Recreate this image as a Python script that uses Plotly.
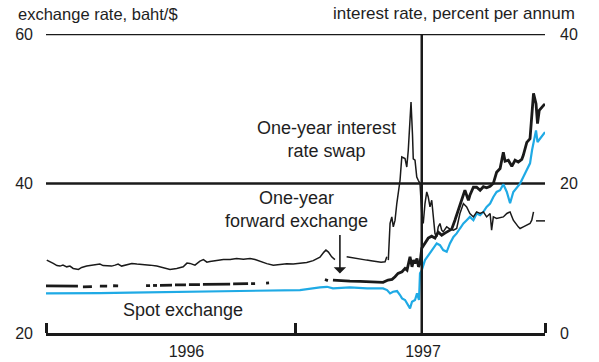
import plotly.graph_objects as go

# ---- Data (time in decimal years) ----
# Spot exchange rate, baht/$ (left axis)
spot_t = [1996.000, 1996.096, 1996.216, 1996.337, 1996.457, 1996.577, 1996.697, 1996.818, 1996.938,
          1997.018, 1997.098, 1997.126, 1997.150, 1997.218, 1997.287, 1997.351, 1997.367, 1997.379,
          1997.391, 1997.407, 1997.419, 1997.427, 1997.439, 1997.451, 1997.459, 1997.467, 1997.479,
          1997.487, 1997.495, 1997.499, 1997.506, 1997.519, 1997.539, 1997.552, 1997.566, 1997.579,
          1997.592, 1997.606, 1997.619, 1997.633, 1997.646, 1997.659, 1997.673, 1997.686, 1997.699,
          1997.713, 1997.726, 1997.740, 1997.753, 1997.766, 1997.780, 1997.793, 1997.806, 1997.820,
          1997.833, 1997.847, 1997.860, 1997.873, 1997.887, 1997.900, 1997.913, 1997.927, 1997.940,
          1997.948, 1997.956, 1997.964, 1997.970, 1997.980, 1997.990, 1998.000]
spot_v = [25.30, 25.28, 25.34, 25.41, 25.47, 25.54, 25.61, 25.66, 25.72,
          25.74, 26.10, 26.18, 25.97, 26.10, 25.97, 25.97, 25.74, 25.30,
          25.52, 25.61, 25.08, 24.63, 24.41, 23.74, 23.30, 24.18, 24.41,
          25.30, 24.41, 27.97, 28.40, 29.75, 30.64, 31.31, 31.98, 31.75,
          31.09, 30.86, 31.98, 32.86, 33.32, 33.98, 34.65, 35.09, 35.53,
          35.09, 35.99, 35.76, 36.20, 36.87, 37.32, 38.20, 38.87, 39.10,
          39.90, 38.87, 37.36, 38.87, 39.54, 39.99, 40.87, 41.77, 42.70,
          44.44, 45.78, 47.11, 45.55, 46.00, 46.44, 46.88]

# One-year forward exchange rate, baht/$ (left axis); None = no quote
fwd_t = [1996.000, 1996.056, 1996.128, None, 1996.148, 1996.184, None, 1996.216, 1996.245, None,
         1996.269, 1996.289, None, 1996.401, 1996.417, None, 1996.429, 1996.445, None,
         1996.457, 1996.505, None, 1996.517, 1996.561, None, 1996.573, 1996.617, None,
         1996.629, 1996.738, None, 1996.750, 1996.810, None, 1996.822, 1996.838, None,
         1996.882, 1996.894, None, 1997.118, 1997.130, None,
         1997.150, 1997.178, 1997.218, 1997.259, 1997.287, 1997.319, 1997.351, 1997.371, 1997.387,
         1997.399, 1997.411, 1997.427, 1997.439, 1997.447, 1997.453, 1997.459, 1997.467, 1997.473,
         1997.479, 1997.487, 1997.493, 1997.499, 1997.506, 1997.519, 1997.532, 1997.546, 1997.559,
         1997.572, 1997.586, 1997.599, 1997.612, 1997.626, 1997.639, 1997.653, 1997.666, 1997.679,
         1997.693, 1997.699, 1997.713, 1997.726, 1997.740, 1997.753, 1997.766, 1997.780, 1997.793,
         1997.806, 1997.820, 1997.833, 1997.840, 1997.853, 1997.867, 1997.880, 1997.893, 1997.907,
         1997.913, 1997.927, 1997.940, 1997.947, 1997.954, 1997.964, 1997.970, 1997.977, 1997.987,
         1997.994, 1998.000]
fwd_v = [26.30, 26.25, 26.28, None, 26.18, 26.20, None, 26.28, 26.26, None,
         26.32, 26.30, None, 26.34, 26.35, None, 26.36, 26.36, None,
         26.38, 26.40, None, 26.45, 26.44, None, 26.46, 26.47, None,
         26.50, 26.55, None, 26.57, 26.60, None, 26.60, 26.61, None,
         26.68, 26.70, None, 27.15, 27.01, None,
         27.08, 27.00, 26.94, 26.90, 26.85, 26.80, 26.77, 27.08, 27.17,
         27.52, 27.97, 28.19, 28.64, 28.41, 29.31, 30.19, 28.85, 29.75,
         29.31, 29.98, 28.85, 29.31, 31.35, 32.02, 32.69, 32.95, 32.69,
         33.49, 33.09, 33.36, 33.62, 33.89, 35.09, 36.56, 38.03, 39.10,
         37.76, 38.43, 39.50, 39.50, 39.10, 39.57, 39.43, 39.63, 40.03,
         41.50, 42.00, 44.17, 42.97, 43.11, 42.30, 43.11, 42.88, 43.24,
         43.77, 45.51, 46.00, 49.34, 52.05, 50.68, 48.01, 49.78, 50.25,
         50.45, 50.65]

# One-year interest rate swap, percent per annum (right axis); None = no quote
swap_t = [1996.003, 1996.016, 1996.029, 1996.044, 1996.056, 1996.068, 1996.083, 1996.096, 1996.109,
          1996.130, 1996.143, 1996.163, 1996.176, 1996.190, 1996.204, 1996.216, 1996.229, 1996.243,
          1996.263, 1996.277, 1996.289, 1996.303, 1996.323, 1996.344, 1996.364, 1996.390, 1996.417,
          1996.444, 1996.470, 1996.497, 1996.524, 1996.550, 1996.565, 1996.577, 1996.597, 1996.617,
          1996.631, 1996.645, 1996.657, 1996.684, 1996.711, 1996.738, 1996.764, 1996.791, 1996.818,
          1996.838, 1996.858, 1996.885, 1996.911, 1996.938, 1996.965, 1996.991, 1997.018, 1997.045,
          1997.071, 1997.098, 1997.114, 1997.122, 1997.132, 1997.145, 1997.158, None,
          1997.205, 1997.222, 1997.245, 1997.263, 1997.285, 1997.303, 1997.326, 1997.343, 1997.359,
          1997.366, None,
          1997.372, 1997.379, 1997.386, 1997.392, 1997.399, 1997.406, 1997.419, 1997.426, 1997.439,
          1997.446, 1997.452, 1997.459, 1997.463, 1997.469, 1997.472, 1997.479, 1997.486, 1997.492,
          1997.499, 1997.506, 1997.512, 1997.519, 1997.526, 1997.532, 1997.539, 1997.546, 1997.552,
          1997.559, 1997.566, 1997.572, 1997.579, 1997.586, 1997.592, 1997.606, 1997.619, 1997.633,
          1997.646, 1997.659, 1997.673, 1997.686, 1997.699, 1997.713, 1997.726, 1997.740, 1997.753,
          1997.766, 1997.780, 1997.786, 1997.793, 1997.806, 1997.833, 1997.847, 1997.860, 1997.873,
          1997.893, 1997.900, 1997.913, 1997.940, 1997.947, 1997.954, None, 1997.964, 1998.000]
swap_v = [9.75, 9.48, 9.31, 9.02, 8.95, 9.08, 8.85, 8.95, 8.64,
          8.51, 8.77, 8.95, 9.02, 9.08, 9.15, 9.22, 9.02, 8.95,
          8.95, 9.08, 9.22, 8.95, 9.08, 9.31, 9.22, 9.18, 9.08,
          8.95, 8.77, 8.51, 8.64, 8.85, 9.35, 9.31, 9.08, 9.62,
          9.82, 9.48, 9.55, 9.68, 9.82, 9.82, 9.95, 9.88, 9.95,
          9.82, 9.55, 9.28, 9.08, 9.15, 9.28, 9.22, 9.28, 9.42,
          9.68, 10.15, 10.82, 11.09, 10.82, 10.19, 9.82, None,
          10.19, 10.08, 9.98, 9.82, 9.75, 9.68, 9.52, 9.48, 9.52,
          10.19, None,
          9.75, 14.65, 15.53, 14.20, 15.09, 17.32, 20.43, 23.55, 23.33,
          22.21, 24.44, 28.45, 30.89, 26.44, 23.30, 23.11, 20.87, 20.43,
          19.99, 15.99, 14.65, 17.32, 18.87, 18.20, 16.87, 17.76, 15.99,
          13.32, 12.86, 14.20, 14.65, 13.76, 13.53, 14.20, 13.90, 13.76,
          13.98, 15.99, 17.32, 16.87, 15.99, 15.53, 16.20, 15.99, 16.20,
          15.53, 15.99, 13.76, 15.53, 15.32, 15.53, 15.99, 16.20, 15.09,
          14.20, 13.98, 14.20, 14.65, 15.09, 16.20, None, 15.00, 15.00]

year_ticks = [1996, 1997, 1998]
year_label_pos = [1996.563, 1997.511]
year_labels = ["1996", "1997"]
left_ticks = [20, 40, 60]
right_ticks = [0, 20, 40]
float_date = 1997.506

FONT = "Arial, Liberation Sans, sans-serif"
TXT = "#1e1e1e"
BLACK = "#1a1a1a"
BLUE = "#1faae5"

fig = go.Figure()
fig.add_trace(go.Scatter(x=swap_t, y=swap_v, yaxis="y2", mode="lines",
                         line=dict(color=BLACK, width=1.5), connectgaps=False,
                         name="One-year interest rate swap"))
fig.add_trace(go.Scatter(x=fwd_t, y=fwd_v, mode="lines",
                         line=dict(color=BLACK, width=2.8), connectgaps=False,
                         name="One-year forward exchange"))
fig.add_trace(go.Scatter(x=spot_t, y=spot_v, mode="lines",
                         line=dict(color=BLUE, width=2.2),
                         name="Spot exchange"))

fig.update_layout(
    width=599, height=362,
    margin=dict(l=46, r=54, t=34, b=29),
    paper_bgcolor="white", plot_bgcolor="white",
    showlegend=False, hovermode=False,
    font=dict(family=FONT, color=TXT, size=16),
    xaxis=dict(range=[1996, 1998], showgrid=False, zeroline=False, automargin=False,
               showline=True, linecolor=BLACK, linewidth=3,
               tickmode="array", tickvals=year_label_pos, ticktext=year_labels,
               ticks="", ticklabelstandoff=2, tickfont=dict(size=16, color=TXT),
               minor=dict(tickmode="array", tickvals=year_ticks, ticks="inside",
                          ticklen=10, tickwidth=3, tickcolor=BLACK, showgrid=False)),
    yaxis=dict(range=[20, 60], showgrid=False, zeroline=False, showline=False,
               automargin=False,
               tickmode="array", tickvals=left_ticks, ticks="",
               ticklabelstandoff=12, tickfont=dict(size=16, color=TXT)),
    yaxis2=dict(range=[0, 40], overlaying="y", side="right", showgrid=False,
                zeroline=False, showline=False, tickmode="array", automargin=False,
                tickvals=right_ticks, ticks="", ticklabelstandoff=14,
                tickfont=dict(size=16, color=TXT)),
)

# reference lines
for yv in [60, 40]:
    fig.add_shape(type="line", xref="paper", yref="y", x0=0, x1=1, y0=yv, y1=yv,
                  line=dict(color=BLACK, width=2.5), layer="below")
fig.add_shape(type="line", xref="x", yref="y", x0=float_date, x1=float_date, y0=20, y1=60,
              line=dict(color=BLACK, width=2.5), layer="above")

# axis titles
fig.add_annotation(text="exchange rate, baht/$", xref="paper", yref="paper",
                   x=-0.0601, y=1.068, xanchor="left", yanchor="middle",
                   showarrow=False, font=dict(size=16.5, color=TXT))
fig.add_annotation(text="interest rate, percent per annum", xref="paper", yref="paper",
                   x=1.0641, y=1.068, xanchor="right", yanchor="middle",
                   showarrow=False, font=dict(size=17, color=TXT))

# series labels
fig.add_annotation(text="One-year interest<br>rate swap", x=1997.126, y=45.84,
                   xanchor="center", yanchor="middle", showarrow=False,
                   font=dict(size=18, color=TXT))
fig.add_annotation(text="One-year<br>forward exchange", x=1997.004, y=36.49,
                   xanchor="center", yanchor="middle", showarrow=False,
                   font=dict(size=18, color=TXT))
fig.add_annotation(text="Spot exchange", x=1996.549, y=23.07,
                   xanchor="center", yanchor="middle", showarrow=False,
                   font=dict(size=18, color=TXT))
fig.add_annotation(text="", x=1997.178, y=27.97, ax=0, ay=-40,
                   showarrow=True, arrowhead=1, arrowsize=1.3, arrowwidth=1.6,
                   arrowcolor=BLACK, standoff=0)

# remove the browser's default 8px page margin so the figure fills the window
fig.write_html("out.html",
               config={"displayModeBar": False, "staticPlot": True},
               post_script="document.body.style.margin='0';document.body.style.overflow='hidden';")
